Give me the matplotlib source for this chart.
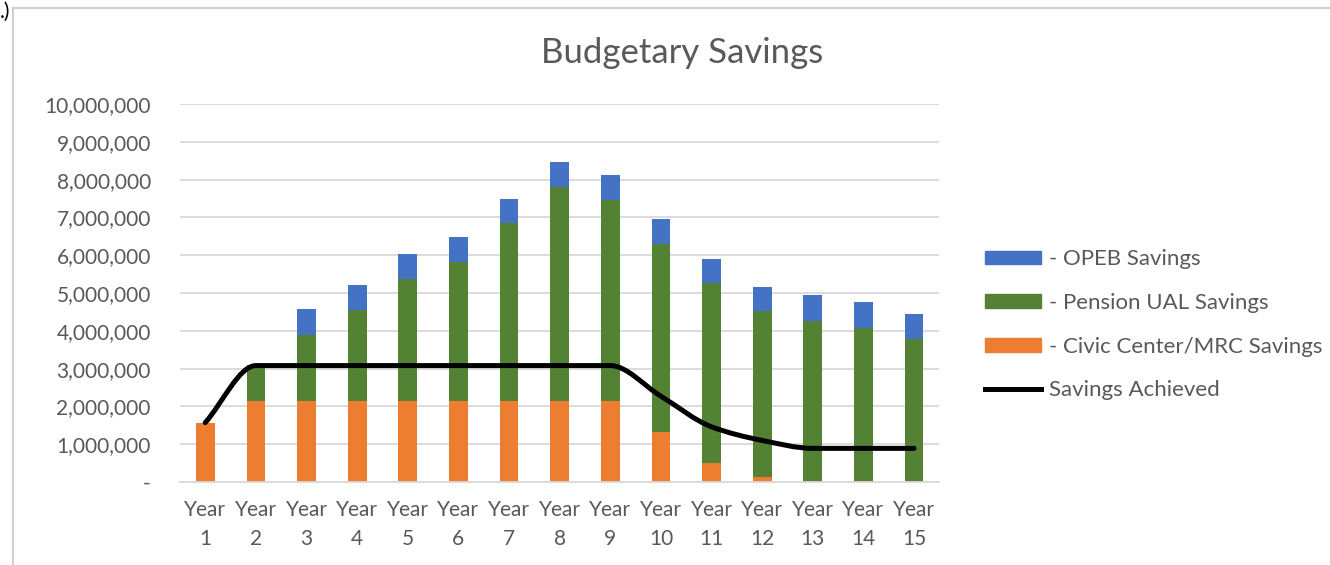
import matplotlib
matplotlib.use("Agg")
import matplotlib.pyplot as plt
import numpy as np
from matplotlib.path import Path
from matplotlib.patches import PathPatch, Rectangle
from matplotlib.lines import Line2D
from matplotlib.ticker import FuncFormatter, MultipleLocator

years = list(range(1, 16))
year_labels = [f"Year\n{y}" for y in years]

civic = [1570000, 2150000, 2150000, 2150000, 2150000, 2150000, 2150000, 2150000,
         2150000, 1330000, 500000, 120000, 0, 0, 0]
pension = [0, 950000, 1750000, 2390000, 3230000, 3680000, 4690000, 5650000,
           5300000, 4960000, 4760000, 4400000, 4270000, 4080000, 3790000]
opeb = [0, 0, 670000, 660000, 650000, 640000, 650000, 670000,
        660000, 670000, 640000, 640000, 670000, 680000, 660000]
achieved = [1570000, 3080000, 3080000, 3080000, 3080000, 3080000, 3080000, 3080000,
            3080000, 2270000, 1460000, 1100000, 890000, 890000, 890000]

ORANGE = "#ED7D31"
GREEN = "#548235"
BLUE = "#4472C4"
GREY = "#595959"

plt.rcParams["font.family"] = ["Lato", "DejaVu Sans"]

fig = plt.figure(figsize=(13.3, 5.65), dpi=100)
ax = fig.add_axes([0.1353, 0.1469, 0.571, 0.669])

x = np.array(years)
w = 0.37
civic = np.array(civic)
pension = np.array(pension)
opeb = np.array(opeb)
ax.bar(x, civic, w, color=ORANGE, zorder=2)
ax.bar(x, pension, w, bottom=civic, color=GREEN, zorder=2)
ax.bar(x, opeb, w, bottom=civic + pension, color=BLUE, zorder=2)

# smoothed line: monotone cubic tangents, drawn as bezier segments
px = x.astype(float)
py = np.array(achieved, dtype=float)
d = np.diff(py) / np.diff(px)
m = np.zeros_like(py)
m[0], m[-1] = d[0], d[-1]
for i in range(1, len(py) - 1):
    if d[i - 1] * d[i] > 0:
        m[i] = 2.0 / (1.0 / d[i - 1] + 1.0 / d[i])
verts = [(px[0], py[0])]
codes = [Path.MOVETO]
for i in range(len(py) - 1):
    h = px[i + 1] - px[i]
    verts += [(px[i] + h / 3, py[i] + m[i] * h / 3),
              (px[i + 1] - h / 3, py[i + 1] - m[i + 1] * h / 3),
              (px[i + 1], py[i + 1])]
    codes += [Path.CURVE4] * 3
ax.add_patch(PathPatch(Path(verts, codes), facecolor="none", edgecolor="black",
                       lw=3.6, capstyle="round", joinstyle="round", zorder=3))

ax.set_xlim(0.5, 15.5)
ax.set_ylim(0, 10000000)
ax.yaxis.set_major_locator(MultipleLocator(1000000))
ax.yaxis.set_major_formatter(FuncFormatter(lambda v, p: "-" if v == 0 else f"{int(v):,}"))
ax.set_xticks(x)
ax.set_xticklabels(year_labels, linespacing=1.55)
ax.grid(axis="y", color="#d9d9d9", lw=1.3, zorder=0)
for s in ax.spines.values():
    s.set_visible(False)
ax.spines["bottom"].set_visible(True)
ax.spines["bottom"].set_color("#d9d9d9")
ax.spines["bottom"].set_linewidth(1.3)
ax.tick_params(length=0, labelsize=15, colors=GREY)
ax.tick_params(axis="y", pad=21)
ax.tick_params(axis="x", pad=13)

fig.text(0.513, 0.906, "Budgetary Savings", ha="center", va="center",
         fontsize=25, color=GREY)

handles = [Rectangle((0, 0), 1, 1, color=BLUE),
           Rectangle((0, 0), 1, 1, color=GREEN),
           Rectangle((0, 0), 1, 1, color=ORANGE),
           Line2D([], [], color="black", lw=3.6)]
labels = ["- OPEB Savings", "- Pension UAL Savings",
          "- Civic Center/MRC Savings", "Savings Achieved"]
leg = fig.legend(handles, labels, loc="upper left", bbox_to_anchor=(0.7406, 0.559),
                 frameon=False, fontsize=16, handlelength=2.5, handleheight=0.55,
                 handletextpad=0.36, labelspacing=1.07, borderaxespad=0,
                 borderpad=0)
for t in leg.get_texts():
    t.set_color(GREY)

# chart frame
fig.add_artist(Line2D([0.0098, 1.0], [0.986, 0.986], transform=fig.transFigure,
                      color="#d0d0d0", lw=1.5))
fig.add_artist(Line2D([0.0098, 0.0098], [0.0, 0.986], transform=fig.transFigure,
                      color="#d0d0d0", lw=1.5))
fig.text(0.0, 0.997, ".)", ha="left", va="top", fontsize=15, color="black")

fig.savefig("out.png", dpi=100, facecolor="white")
